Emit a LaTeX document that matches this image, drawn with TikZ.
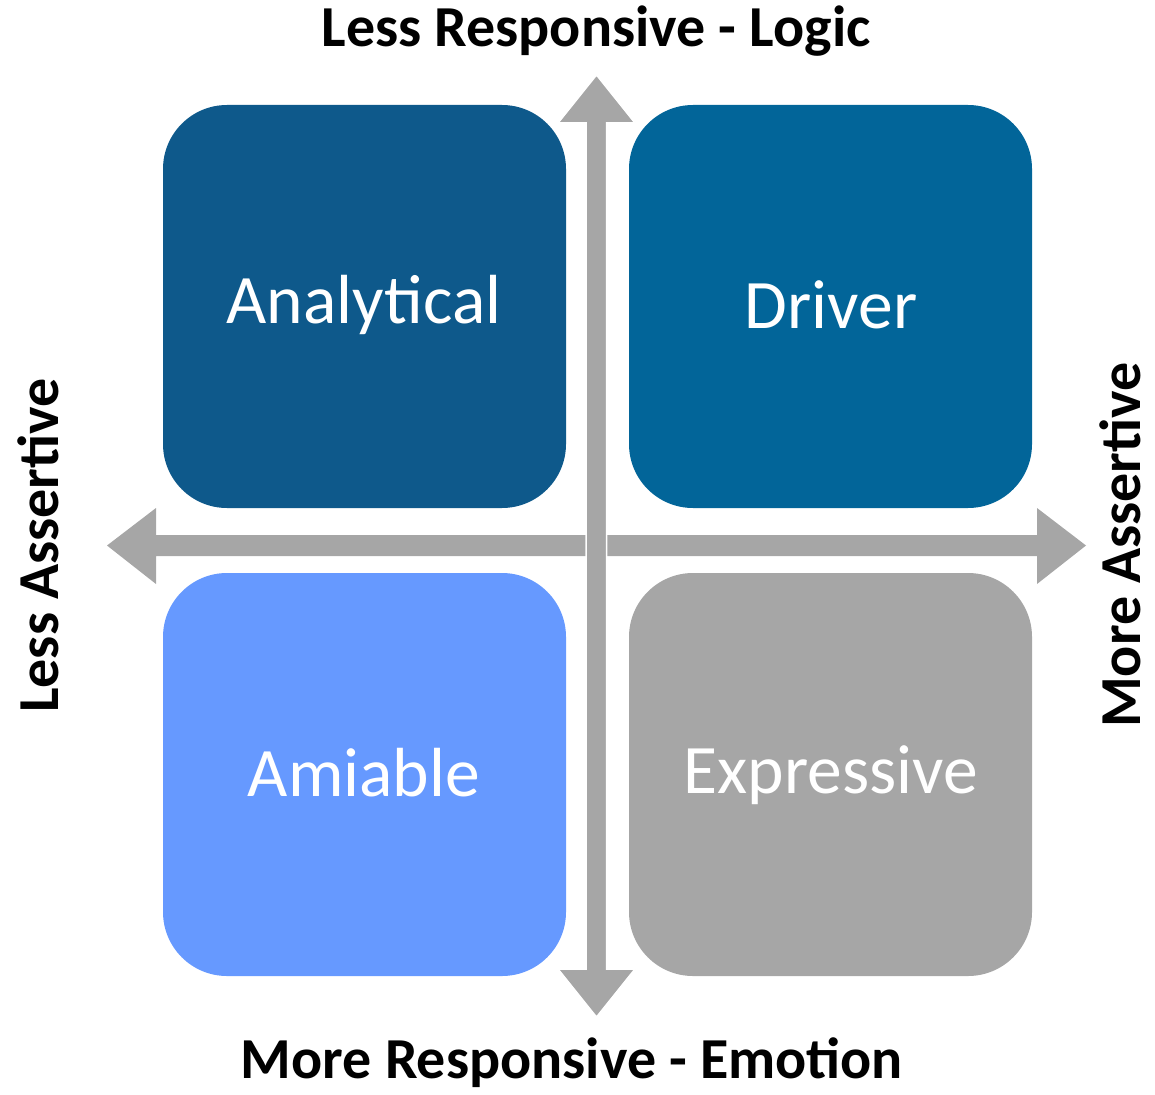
\documentclass[tikz,border=0pt]{standalone}
\usepackage{fontspec}
\setmainfont{Carlito}
\definecolor{cAnal}{RGB}{14,89,139}
\definecolor{cDrv}{RGB}{2,101,153}
\definecolor{cAmi}{RGB}{102,153,255}
\definecolor{cExp}{RGB}{166,166,166}
\definecolor{cArr}{RGB}{166,166,166}
\begin{document}
\begin{tikzpicture}[x=1pt,y=-1pt,
  quad/.style={fill=#1, draw=none, rounded corners=64pt},
  qlabel/.style={text=white, font=\fontsize{69.5}{80}\selectfont},
  axlabel/.style={font=\bfseries\fontsize{58}{66}\selectfont, text=black, anchor=base, inner sep=0pt}]
\useasboundingbox (0,0) rectangle (1155,1094);
% quadrants
\fill[quad=cAnal] (163,105) rectangle (566,508);
\fill[quad=cDrv] (629,105) rectangle (1032,508);
\fill[quad=cAmi] (163,573) rectangle (566,976);
\fill[quad=cExp] (629,573) rectangle (1032,976);
% horizontal arrow
\fill[cArr] (107,545.5) -- (156,508) -- (156,535) -- (1037,535) -- (1037,508) -- (1086,545.5)
  -- (1037,584) -- (1037,556) -- (156,556) -- (156,584) -- cycle;
% vertical arrow
\filldraw[fill=cArr, draw=white, line width=1.5pt] (596.5,75) -- (635,123) -- (606.5,123) -- (606.5,969) -- (635,969) -- (596.5,1017)
  -- (558,969) -- (586,969) -- (586,123) -- (558,123) -- cycle;
% labels
\node[qlabel] (anal) at (364,305) {Analytical};
\node[qlabel] (drv) at (831,305) {Driver};
\node[qlabel] (ami) at (364,773) {Amiable};
\node[qlabel] (exp) at (831,775) {Expressive};
\node[axlabel] (top) at (596,47) {Less Responsive - Logic};
\node[axlabel] (bot) at (572,1078) {More Responsive - Emotion};
\node[axlabel, rotate=90] (left) at (58,545.5) {Less Assertive};
\node[axlabel, rotate=90, text depth=0pt] (right) at (1140,545) {More Assertive};
\end{tikzpicture}
\end{document}
